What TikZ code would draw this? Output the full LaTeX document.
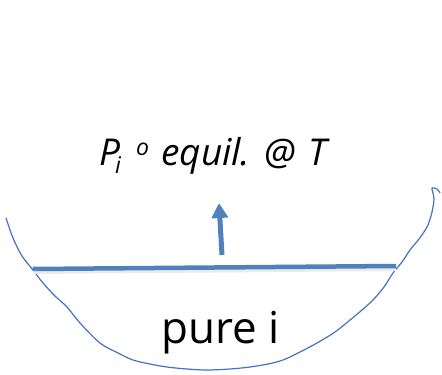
\documentclass[tikz,border=0pt]{standalone}
\usepackage{fontspec}
\setmainfont{Open Sans}
\usetikzlibrary{arrows.meta}
\definecolor{bblue}{RGB}{79,129,189}
\definecolor{cblue}{RGB}{68,114,196}
\tikzset{
  bowl/.style={draw=cblue, line width=1.2pt, line join=round},
  surface/.style={draw=bblue, line width=4.5pt},
  riser/.style={draw=bblue, line width=5pt, -{Triangle[width=16pt,length=15pt]}},
  lbl/.style={inner sep=0pt, anchor=base west, text=black}
}
\newcommand{\smallfs}{\fontsize{23}{25}\selectfont}
\begin{document}
\begin{tikzpicture}[x=1pt,y=-1pt]
\useasboundingbox (0,0) rectangle (442,375);
% bowl
\draw[bowl] plot[smooth, tension=0.55] coordinates {
 (6,218) (13,238) (22,256) (33,270) (43,283) (55,296) (67,307) (80,323) (100,343)
 (118,353) (133,360) (150,364) (167,367) (187,369) (207,370) (230,369) (250,367)
 (268,364) (283,360) (300,352) (317,343) (335,332) (350,320) (362,310) (373,300)
 (384,287) (393,273) (402,262) (410,250) (419,239) (427,227) (431,216) (433,207)
 (434,199) (433,193) (432,188) (437,189) (440,193)};
% liquid surface
\coordinate (s1) at (33,269);
\coordinate (s2) at (396,266);
\draw[draw=black!8, line width=4pt] ([yshift=-3pt]s1) -- ([yshift=-3pt]s2);
\draw[surface] (s1) -- (s2);
% arrow
\coordinate (a1) at (222,255);
\coordinate (a2) at (219,203);
\draw[riser] (a1) -- (a2);
% labels
\node[lbl, font=\fontsize{37}{40}\selectfont\itshape] (eq) at (99,165)
  {\makebox[37pt][l]{P\kern-5pt\raisebox{-8pt}{\smallfs i}}%
   \makebox[25pt][l]{\raisebox{10pt}{\smallfs o}}%
   \makebox[103pt][l]{equil.}%
   \makebox[44pt][l]{@}T};
\node[lbl, font=\fontsize{44}{50}\selectfont] (pure) at (161,343) {pure i};
\end{tikzpicture}
\end{document}
